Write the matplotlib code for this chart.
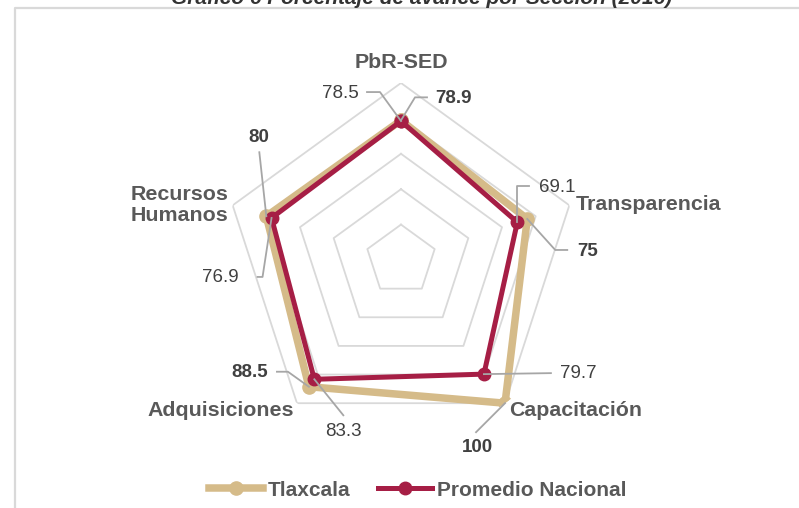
import numpy as np
import matplotlib
matplotlib.use("Agg")
import matplotlib.pyplot as plt
from matplotlib.lines import Line2D

plt.rcParams['font.family'] = ['Liberation Sans', 'DejaVu Sans']

categories = ["PbR-SED", "Transparencia", "Capacitación", "Adquisiciones", "Recursos\nHumanos"]
tlaxcala = [78.9, 75, 100, 88.5, 80]
nacional = [78.5, 69.1, 79.7, 83.3, 76.9]
grid_levels = [20, 40, 60, 80, 100]
series_names = ["Tlaxcala", "Promedio Nacional"]
title = "Gráfico 6 Porcentaje de avance por Sección (2016)"

TAN = "#D5BB89"
RED = "#A61E45"
LAB = "#595959"
VAL = "#404040"
LEAD = "#A6A6A6"

W, H = 799, 508
fig = plt.figure(figsize=(W / 100, H / 100), dpi=100)

cx, cy, R = 401, 260, 177
ax = fig.add_axes([(cx - R) / W, (H - cy - R) / H, 2 * R / W, 2 * R / H], projection='polar')
ax.set_theta_offset(np.pi / 2)
ax.set_theta_direction(-1)
ax.set_ylim(0, 100)
ax.grid(False)
ax.set_xticks([])
ax.set_yticks([])
ax.spines['polar'].set_visible(False)
ax.patch.set_alpha(0)

n = len(categories)
theta = np.linspace(0, 2 * np.pi, n, endpoint=False)
tc = np.append(theta, theta[0])

for lv in grid_levels:
    ax.plot(tc, [lv] * (n + 1), color="#D9D9D9", lw=1.3, zorder=1)

ax.plot(tc, tlaxcala + [tlaxcala[0]], color=TAN, lw=5.4, marker='o', ms=9.5,
        solid_joinstyle='round', zorder=3, label=series_names[0])
ax.plot(tc, nacional + [nacional[0]], color=RED, lw=3.6, marker='o', ms=9,
        solid_joinstyle='round', zorder=4, label=series_names[1])

fig.canvas.draw()

# label specs: (series index, category index, leader offsets [px, y down], text offset, ha)
labels = [
    (1, 0, [(-21, -29), (-34, -29)], (-42, -28), 'right'),
    (0, 0, [(14, -23), (26, -23)], (34, -22), 'left'),
    (1, 1, [(0, -36), (12, -36)], (22, -35), 'left'),
    (0, 1, [(28, 31), (40, 31)], (50, 33), 'left'),
    (1, 2, [(67, -1)], (76, -1), 'left'),
    (0, 2, [(-29, 29)], (-28, 44), 'center'),
    (0, 3, [(-21, -15), (-32, -15)], (-41, -14), 'right'),
    (1, 3, [(29, 36)], (29, 52), 'center'),
    (0, 4, [(-7, -64)], (-8, -79), 'center'),
    (1, 4, [(-9, 59), (-14, 59)], (-33, 60), 'right'),
]
data = [tlaxcala, nacional]
for si, ci, leader, toff, ha in labels:
    v = data[si][ci]
    px, py = ax.transData.transform((theta[ci], v))
    xs = [px] + [px + dx for dx, dy in leader]
    ys = [py] + [py - dy for dx, dy in leader]
    fig.add_artist(Line2D(xs, ys, transform=None, color=LEAD, lw=1.3, zorder=5))
    txt = f"{v:g}"
    fig.text((px + toff[0]) / W, (py - toff[1]) / H, txt, ha=ha, va='center',
             fontsize=13.5, color=VAL, fontweight='bold' if si == 0 else 'normal')

# category labels (pixel positions of centres)
cat_pos = [(401, 63), (649, 204), (576, 410), (221, 410), (180, 205)]
for name, (x, y) in zip(categories, cat_pos):
    fig.text(x / W, 1 - y / H, name, ha='center', va='center', fontsize=15.4,
             fontweight='bold', color=LAB, linespacing=1.1)

# title (cropped at top, as in the reference)
fig.text(422 / W, 1 - 4 / H, title, ha='center', va='baseline', fontsize=15,
         fontweight='bold', fontstyle='italic', color='#333333')

# frame
fig.add_artist(Line2D([15, 15, W], [0, H - 8, H - 8], transform=None,
                      color="#D9D9D9", lw=1.6))

leg = fig.legend(loc='center', bbox_to_anchor=(417.5 / W, 1 - 490 / H), ncol=2,
                 frameon=False, handlelength=2.6, handletextpad=0.25, columnspacing=1.3,
                 prop={'family': 'Liberation Sans', 'weight': 'bold', 'size': 15})
for t in leg.get_texts():
    t.set_color(LAB)

fig.savefig("out.png", dpi=100)
